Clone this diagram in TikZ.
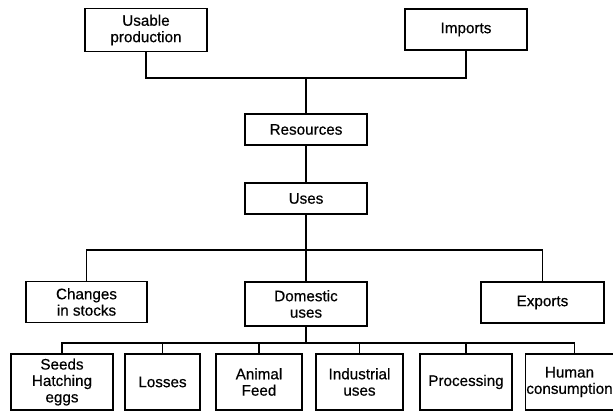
\documentclass[tikz,border=0pt]{standalone}
\usepackage{fontspec}
\setmainfont{Liberation Sans}
\newfontfamily\boxfont{Liberation Sans}[FakeBold=0.5]
\usetikzlibrary{positioning}

\begin{document}
\begin{tikzpicture}[
        x=0.03cm, y=-0.03cm,
        box/.style={
            rectangle, draw=black, line width=1.1pt,
            align=center, inner sep=1pt,
            font=\boxfont\fontsize{13}{14}\selectfont
        },
        link/.style={line width=1.1pt, color=black}
    ]
    \useasboundingbox (0,0) rectangle (613,412);

    % SOURCES
    \node[box, minimum width=3.66cm, minimum height=1.29cm] (production) at (146,30) {Usable\\production};
    \node[box, minimum width=3.66cm, minimum height=1.23cm] (imports) at (466,29.5) {Imports};

    % RESOURCES AND USES
    \node[box, minimum width=3.66cm, minimum height=0.93cm] (resources) at (306,129.5) {Resources};
    \node[box, minimum width=3.66cm, minimum height=0.93cm] (uses) at (306,198.5) {Uses};

    % USE GROUPS
    \node[box, minimum width=3.63cm, minimum height=1.23cm] (changes) at (86.5,302) {Changes\\in stocks};
    \node[box, minimum width=3.66cm, minimum height=1.32cm] (domestic) at (306,304) {Domestic\\uses};
    \node[box, minimum width=3.69cm, minimum height=1.23cm] (exports) at (542.5,302.5) {Exports};

    % DOMESTIC USES
    \node[box, minimum width=3.06cm, minimum height=1.68cm] (seeds) at (62,382) {Seeds\\Hatching\\eggs};
    \node[box, minimum width=2.25cm, minimum height=1.68cm] (losses) at (162.5,382) {Losses};
    \node[box, minimum width=2.58cm, minimum height=1.68cm] (feed) at (259,382) {Animal\\Feed};
    \node[box, minimum width=2.61cm, minimum height=1.68cm] (industrial) at (359.5,382) {Industrial\\uses};
    \node[box, minimum width=2.76cm, minimum height=1.68cm] (processing) at (466,382) {Processing};
    \node[box, minimum width=2.55cm, minimum height=1.68cm] (human) at (569.5,382) {Human\\consumption};

    % BUSES
    \coordinate (srcbus) at (306,78);
    \coordinate (usebus) at (306,250);
    \coordinate (dombus) at (306,343);

    % CONNECTORS
    \draw[link] (production.south) |- (srcbus) -| (imports.south);
    \draw[link] (srcbus) -- (resources.north);
    \draw[link] (resources) -- (uses);
    \draw[link] (uses) -- (usebus);
    \draw[link] (changes.north) |- (usebus) -| (exports.north);
    \draw[link] (usebus) -- (domestic.north);
    \draw[link] (domestic) -- (dombus);
    \foreach \n in {seeds,losses,feed,industrial,processing}
        \draw[link] (dombus) -| (\n.north);
    \draw[link] (dombus) -| ([xshift=0.16cm]human.north);

\end{tikzpicture}
\end{document}
